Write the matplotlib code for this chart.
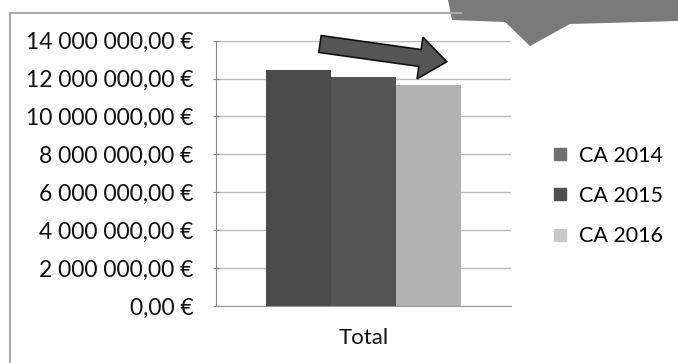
import matplotlib.pyplot as plt
from matplotlib.patches import FancyArrow, Polygon
from matplotlib.lines import Line2D
from matplotlib.ticker import FuncFormatter

series = ['CA 2014', 'CA 2015', 'CA 2016']
values = [12450000, 12100000, 11650000]
category = 'Total'
colors = ['#4b4b4b', '#545454', '#b2b2b2']

plt.rcParams['font.family'] = ['Lato', 'DejaVu Sans']

fig = plt.figure(figsize=(6.78, 3.63), dpi=100)
ax = fig.add_axes([0.3186, 0.157, 0.4351, 0.731])

width = 0.22
for i, (name, v, c) in enumerate(zip(series, values, colors)):
    ax.bar((i - 1) * width, v, width=width, color=c, label=name, zorder=2)

ax.set_xlim(-0.5, 0.5)
ax.set_ylim(0, 14000000)
ax.set_yticks(range(0, 14000001, 2000000))


def euro(v, pos):
    s = f"{v:,.2f}".replace(',', ' ').replace('.', ',')
    return s + ' €'


ax.yaxis.set_major_formatter(FuncFormatter(euro))
ax.set_xticks([0])
ax.set_xticklabels([category])
ax.tick_params(axis='y', labelsize=16.5, length=4, direction='inout',
               color='#888888', pad=14, labelcolor='#111111')
ax.tick_params(axis='x', labelsize=16, length=0, pad=16, labelcolor='#111111')
ax.grid(axis='y', color='#b8b8b8', linewidth=1, zorder=0)
for side in ['top', 'right']:
    ax.spines[side].set_visible(False)
ax.spines['left'].set_color('#888888')
ax.spines['bottom'].set_color('#999999')

handles = [Line2D([], [], marker='s', linestyle='none', markersize=8,
                  markerfacecolor=c, markeredgecolor=c) for c in ['#707070', '#505050', '#c8c8c8']]
fig.legend(handles, series, loc='center left', bbox_to_anchor=(0.784, 0.46),
           frameon=False, fontsize=15.5, labelspacing=0.95, handletextpad=0.5,
           handlelength=0.8)

# outer frame of the chart area
fig.add_artist(Line2D([0.015, 0.015], [0, 0.965], color='#aaaaaa', lw=1.5,
                      transform=fig.transFigure))
fig.add_artist(Line2D([0.015, 0.68], [0.965, 0.965], color='#aaaaaa', lw=1.5,
                      transform=fig.transFigure))

# grey callout shape in the corner
pix = [(448, 0), (452, 20), (505, 22), (530, 46), (570, 24), (678, 21), (678, 0)]
blob = Polygon([(x / 100, (363 - y) / 100) for x, y in pix], closed=True,
               facecolor='#7a7a7a', edgecolor='none',
               transform=fig.dpi_scale_trans)
fig.add_artist(blob)

# downward trend arrow
arrow = FancyArrow(3.20, (363 - 44) / 100, 1.00, -0.14,
                   width=0.17, head_width=0.42, head_length=0.27,
                   length_includes_head=False, facecolor='#555555',
                   edgecolor='#111111', linewidth=1.2,
                   transform=fig.dpi_scale_trans)
fig.add_artist(arrow)

fig.savefig('out.png', dpi=100)
